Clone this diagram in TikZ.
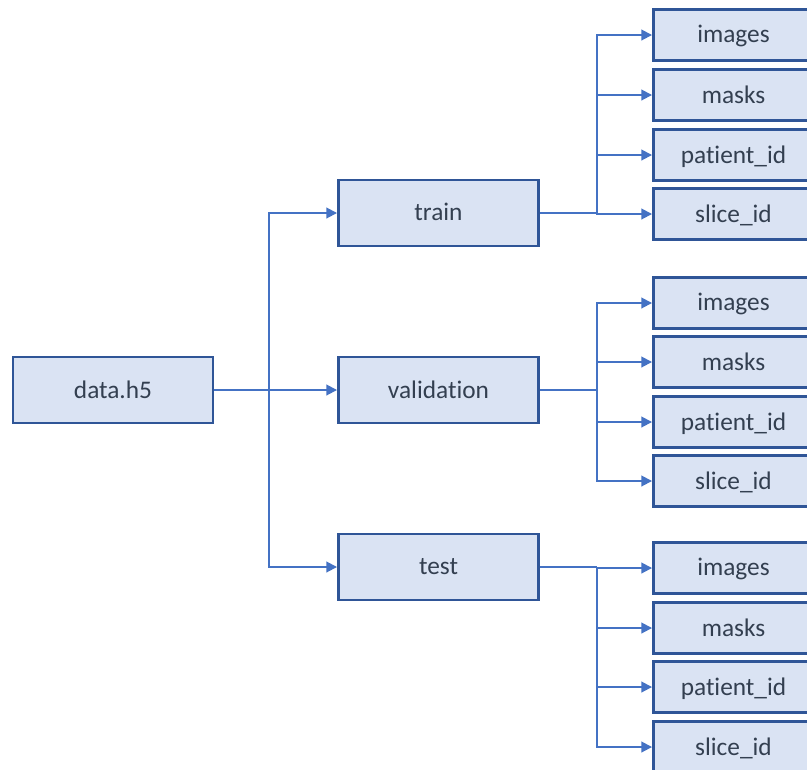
\documentclass[tikz,border=0pt]{standalone}
\usepackage{fontspec}
\setmainfont[Ligatures=NoCommon]{Carlito}
\usetikzlibrary{arrows.meta}
\definecolor{boxfill}{HTML}{DAE3F3}
\definecolor{boxline}{HTML}{2F5597}
\definecolor{conn}{HTML}{4472C4}
\definecolor{txt}{HTML}{333F50}
\begin{document}
\begin{tikzpicture}[x=0.75pt,y=-0.75pt,
  bigbox/.style={draw=boxline,fill=boxfill,line width=2.2pt,minimum width=150pt,minimum height=49.5pt,inner sep=0pt,text=txt,font=\fontsize{19}{22}\selectfont,text depth=0.25ex},
  smallbox/.style={draw=boxline,fill=boxfill,line width=2.2pt,minimum width=120pt,minimum height=38.5pt,inner sep=0pt,text=txt,font=\fontsize{19}{22}\selectfont,text depth=0.25ex},
  link/.style={draw=conn,line width=1.4pt},
  arr/.style={link,-{Triangle[length=8pt,width=8pt]}}]
\useasboundingbox (0,0) rectangle (807,769);
\clip (0,0) rectangle (807,769);
\fill[white] (0,0) rectangle (807,769);
\node[bigbox] (data) at (113,390) {data.h5};
\node[bigbox] (train) at (438.5,213) {train};
\node[bigbox] (val) at (438.5,390) {validation};
\node[bigbox] (test) at (438.5,567) {test};
\coordinate (b0) at (269,390);
\draw[link] (data.east) -- (b0);
\draw[arr] (b0) |- (train.west);
\draw[arr] (b0) -- (val.west);
\draw[arr] (b0) |- (test.west);
% train group
\node[smallbox] (ti) at (733.5,35) {images};
\node[smallbox] (tm) at (733.5,95) {masks};
\node[smallbox] (tp) at (733.5,155) {patient\_id};
\node[smallbox] (ts) at (733.5,214) {slice\_id};
\coordinate (bt) at (597,213);
\draw[link] (train.east) -- (bt);
\draw[arr] (bt) |- (ti.west);
\draw[arr] (bt) |- (tm.west);
\draw[arr] (bt) |- (tp.west);
\draw[arr] (bt) |- (ts.west);
% validation group
\node[smallbox] (vi) at (733.5,303) {images};
\node[smallbox] (vm) at (733.5,362) {masks};
\node[smallbox] (vp) at (733.5,422) {patient\_id};
\node[smallbox] (vs) at (733.5,481) {slice\_id};
\coordinate (bv) at (597,390);
\draw[link] (val.east) -- (bv);
\draw[arr] (bv) |- (vi.west);
\draw[arr] (bv) |- (vm.west);
\draw[arr] (bv) |- (vp.west);
\draw[arr] (bv) |- (vs.west);
% test group
\node[smallbox] (ei) at (733.5,568) {images};
\node[smallbox] (em) at (733.5,628) {masks};
\node[smallbox] (ep) at (733.5,687) {patient\_id};
\node[smallbox] (es) at (733.5,747) {slice\_id};
\coordinate (be) at (597,567);
\draw[link] (test.east) -- (be);
\draw[arr] (be) |- (ei.west);
\draw[arr] (be) |- (em.west);
\draw[arr] (be) |- (ep.west);
\draw[arr] (be) |- (es.west);
\end{tikzpicture}
\end{document}
